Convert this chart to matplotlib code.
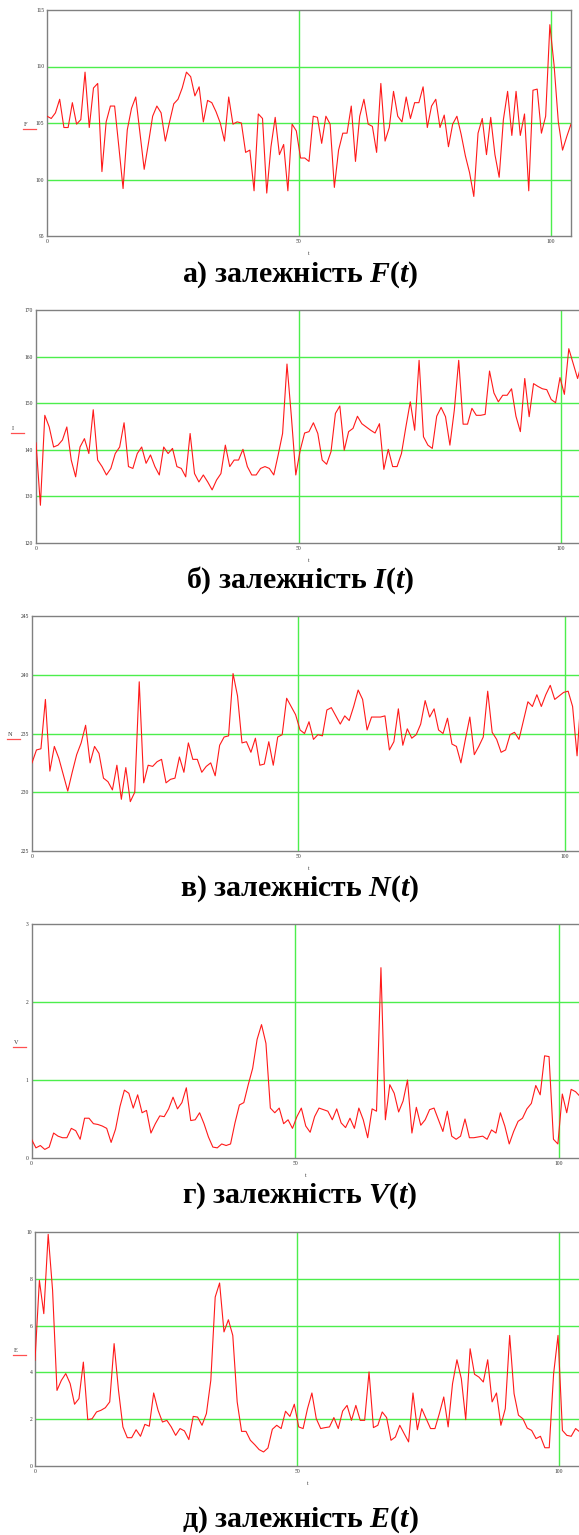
import numpy as np
import matplotlib
matplotlib.use("Agg")
import matplotlib.pyplot as plt

plt.rcParams["font.family"] = ["Liberation Serif", "DejaVu Serif"]
plt.rcParams["mathtext.fontset"] = "custom"
plt.rcParams["mathtext.it"] = "Liberation Serif:italic:bold"
plt.rcParams["mathtext.rm"] = "Liberation Serif:bold"

# sample times (125 measurements)
t = np.linspace(0, 104, 125)

F = [105.6, 105.4, 105.9, 107.1, 104.6, 104.6, 106.8, 104.9, 105.3, 109.5,
     104.6, 108.1, 108.5, 100.7, 105.1, 106.5, 106.5, 102.9, 99.2, 104.4,
     106.3, 107.3, 104.1, 100.9, 103.2, 105.6, 106.5, 105.9, 103.4, 105.1,
     106.7, 107.1, 108.1, 109.5, 109.1, 107.4, 108.2, 105.1, 107.0, 106.8,
     106.0, 105.0, 103.4, 107.3, 104.9, 105.1, 105.0, 102.4, 102.6, 99.0,
     105.8, 105.4, 98.8, 102.9, 105.5, 102.2, 103.1, 99.0, 104.9, 104.3,
     101.9, 101.9, 101.6, 105.6, 105.5, 103.2, 105.6, 104.9, 99.3, 102.6,
     104.1, 104.1, 106.5, 101.6, 105.6, 107.1, 104.9, 104.7, 102.4, 108.5,
     103.4, 104.6, 107.8, 105.6, 105.1, 107.3, 105.4, 106.8, 106.8, 108.2,
     104.6, 106.5, 107.1, 104.6, 105.7, 102.9, 104.9, 105.6, 104.0, 102.1,
     100.6, 98.5, 104.1, 105.4, 102.2, 105.5, 102.2, 100.2, 105.3, 107.8,
     103.9, 107.8, 103.9, 105.8, 99.0, 107.9, 108.0, 104.1, 105.6, 113.7,
     110.1, 105.1, 102.6, 103.8, 104.9]

I = [141.5, 128.1, 147.4, 144.9, 140.6, 141.0, 142.1, 144.9, 137.8, 134.2,
     140.6, 142.4, 139.2, 148.6, 137.8, 136.4, 134.6, 136.0, 139.2, 140.6,
     145.8, 136.4, 136.0, 139.2, 140.6, 137.1, 138.9, 136.4, 134.6, 140.6,
     139.2, 140.3, 136.4, 136.0, 134.2, 143.5, 134.9, 133.1, 134.6, 133.1,
     131.4, 133.5, 134.9, 141.0, 136.4, 137.8, 137.8, 140.1, 136.4, 134.6,
     134.6, 136.0, 136.4, 136.0, 134.6, 138.9, 143.5, 158.4, 147.1, 134.6,
     139.9, 143.6, 143.9, 145.8, 143.5, 137.8, 136.9, 139.6, 147.8, 149.4,
     139.9, 143.9, 144.6, 147.2, 145.6, 144.9, 144.2, 143.6, 145.6, 135.8,
     140.1, 136.4, 136.4, 139.2, 144.9, 150.3, 144.2, 159.2, 142.8, 141.0,
     140.3, 147.2, 149.1, 147.1, 141.0, 148.5, 159.2, 145.5, 145.5, 148.9,
     147.4, 147.4, 147.6, 156.9, 152.2, 150.3, 151.7, 151.7, 153.1, 147.2,
     143.9, 155.3, 147.1, 154.2, 153.6, 153.1, 152.9, 150.8, 150.1, 155.5,
     151.9, 161.7, 158.5, 155.3, 158.9]

N = [232.5, 233.6, 233.7, 237.9, 231.8, 233.9, 232.9, 231.5, 230.1, 231.7,
     233.2, 234.2, 235.7, 232.5, 233.9, 233.3, 231.2, 230.9, 230.2, 232.3,
     229.4, 232.1, 229.2, 230.0, 239.4, 230.8, 232.3, 232.2, 232.6, 232.8,
     230.8, 231.1, 231.2, 233.0, 231.7, 234.2, 232.8, 232.8, 231.7, 232.2,
     232.5, 231.4, 234.0, 234.7, 234.8, 240.1, 238.2, 234.2, 234.3, 233.4,
     234.6, 232.3, 232.4, 234.3, 232.3, 234.7, 234.9, 238.0, 237.3, 236.6,
     235.3, 235.0, 236.0, 234.5, 234.9, 234.8, 237.0, 237.2, 236.5, 235.8,
     236.5, 236.1, 237.3, 238.7, 237.9, 235.3, 236.4, 236.4, 236.4, 236.5,
     233.6, 234.3, 237.1, 234.0, 235.4, 234.6, 234.9, 235.8, 237.8, 236.4,
     237.1, 235.3, 235.0, 236.3, 234.1, 233.9, 232.5, 234.5, 236.4, 233.2,
     233.9, 234.7, 238.6, 235.1, 234.5, 233.4, 233.6, 234.9, 235.1, 234.5,
     236.1, 237.7, 237.3, 238.3, 237.3, 238.3, 239.1, 237.9, 238.2, 238.5,
     238.6, 237.3, 233.1, 238.8, 238.3]

V = [0.24, 0.13, 0.16, 0.11, 0.14, 0.32, 0.28, 0.26, 0.26, 0.38,
     0.35, 0.24, 0.51, 0.51, 0.44, 0.43, 0.41, 0.38, 0.20, 0.37,
     0.66, 0.87, 0.83, 0.64, 0.81, 0.58, 0.61, 0.32, 0.44, 0.54,
     0.53, 0.63, 0.78, 0.63, 0.71, 0.90, 0.48, 0.49, 0.58, 0.44,
     0.27, 0.14, 0.13, 0.18, 0.16, 0.18, 0.45, 0.68, 0.71, 0.94,
     1.15, 1.52, 1.71, 1.47, 0.64, 0.58, 0.64, 0.44, 0.49, 0.38,
     0.53, 0.64, 0.41, 0.33, 0.53, 0.64, 0.62, 0.60, 0.49, 0.63,
     0.45, 0.39, 0.51, 0.38, 0.64, 0.49, 0.26, 0.63, 0.60, 2.44,
     0.49, 0.94, 0.83, 0.59, 0.73, 1.00, 0.32, 0.65, 0.42, 0.49,
     0.62, 0.64, 0.49, 0.34, 0.60, 0.28, 0.24, 0.28, 0.50, 0.26,
     0.26, 0.27, 0.28, 0.24, 0.36, 0.32, 0.58, 0.41, 0.18, 0.34,
     0.47, 0.51, 0.63, 0.70, 0.93, 0.81, 1.31, 1.30, 0.24, 0.18,
     0.82, 0.58, 0.88, 0.85, 0.79]

E = [4.52, 7.93, 6.51, 9.90, 7.51, 3.23, 3.66, 3.95, 3.52, 2.64,
     2.88, 4.44, 1.98, 2.02, 2.31, 2.38, 2.49, 2.74, 5.23, 3.23,
     1.67, 1.21, 1.21, 1.55, 1.27, 1.78, 1.70, 3.12, 2.38, 1.88,
     1.95, 1.67, 1.31, 1.60, 1.50, 1.13, 2.12, 2.09, 1.74, 2.24,
     3.66, 7.22, 7.82, 5.73, 6.25, 5.58, 2.74, 1.48, 1.48, 1.10,
     0.91, 0.70, 0.60, 0.77, 1.57, 1.74, 1.60, 2.34, 2.12, 2.64,
     1.67, 1.60, 2.45, 3.12, 2.02, 1.60, 1.64, 1.67, 2.07, 1.60,
     2.35, 2.59, 1.95, 2.59, 1.95, 1.95, 4.02, 1.64, 1.74, 2.31,
     2.07, 1.10, 1.24, 1.74, 1.38, 1.03, 3.12, 1.55, 2.45, 2.02,
     1.60, 1.60, 2.24, 2.95, 1.67, 3.52, 4.54, 3.73, 1.98, 5.01,
     3.92, 3.80, 3.59, 4.54, 2.74, 3.12, 1.74, 2.45, 5.58, 3.09,
     2.17, 2.02, 1.62, 1.52, 1.17, 1.27, 0.78, 0.78, 3.95, 5.58,
     1.52, 1.31, 1.27, 1.60, 1.45]

names = ["F", "I", "N", "V", "E"]
series = [F, I, N, V, E]
yticks = [[95, 100, 105, 110, 115],
          [120, 130, 140, 150, 160, 170],
          [225, 230, 235, 240, 245],
          [0, 1, 2, 3],
          [0, 2, 4, 6, 8, 10]]
captions = ["а) залежність $F$($t$)",
            "б) залежність $I$($t$)",
            "в) залежність $N$($t$)",
            "г) залежність $V$($t$)",
            "д) залежність $E$($t$)"]
xticks = [0, 50, 100]

# layout in pixels: left, right, top, bottom of each plot frame
boxes = [(47, 571, 10, 236),
         (36, 582, 310, 543),
         (32, 586, 616, 851),
         (31.5, 580, 924, 1158),
         (35, 580, 1232, 1466)]
label_dx = [-24, -25, -25, -19, -22]
caption_y = [275, 580, 889, 1196, 1520]

W, H = 579, 1535
fig = plt.figure(figsize=(W / 100, H / 100), dpi=100)

GRID = "#4cee4c"
LINE = "#ff1a1a"
FRAME = "#808080"

for name, vals, yt, cap, box, dx, cy in zip(names, series, yticks, captions,
                                          boxes, label_dx, caption_y):
    l, r, tp, b = box
    ax = fig.add_axes([l / W, 1 - b / H, (r - l) / W, (b - tp) / H])
    ax.plot(t, vals, color=LINE, lw=0.8, zorder=3)
    ax.set_xlim(0, 104)
    ax.set_ylim(yt[0], yt[-1])
    ax.set_xticks(xticks)
    ax.set_yticks(yt)
    for v in yt[1:-1]:
        ax.axhline(v, color=GRID, lw=1.0, zorder=1)
    for v in xticks[1:]:
        ax.axvline(v, color=GRID, lw=1.0, zorder=1)
    for s in ax.spines.values():
        s.set_color(FRAME)
        s.set_linewidth(1.0)
    ax.tick_params(length=0, labelsize=4, pad=2, labelcolor="#333333")

    # axis names as Mathcad draws them
    ax.set_xlabel("t", fontsize=4, color="#333333")
    ax.xaxis.set_label_coords(0.5, -15 / (b - tp))
    w_px = r - l
    ux0 = dx / w_px
    ux1 = (dx + 13) / w_px
    uy = 0.5 - 6 / (b - tp)
    ax.plot([ux0, ux1], [uy, uy], color="#ff5050", lw=0.9,
            transform=ax.transAxes, clip_on=False)
    ax.text(ux0 + 1 / w_px, uy + 2 / (b - tp), name, fontsize=4.5,
            color="#333333", transform=ax.transAxes, ha="left", va="bottom")

    fig.text(300 / W, 1 - cy / H, cap, ha="center", va="center",
             fontsize=21.5, fontweight="bold")

fig.savefig("out.png", dpi=100)
